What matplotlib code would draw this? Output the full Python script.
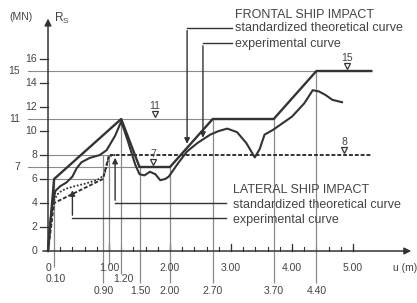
import matplotlib
matplotlib.use('Agg')
import matplotlib.pyplot as plt

plt.rcParams['font.family'] = ['Liberation Sans Narrow', 'Liberation Sans', 'DejaVu Sans']

# --- data -------------------------------------------------------------
# frontal ship impact
front_th_u = [0, 0.1, 1.2, 1.5, 2.0, 2.7, 3.7, 4.4, 5.3]
front_th_r = [0, 6, 11, 7, 7, 11, 11, 15, 15]

front_ex_u = [0, 0.03, 0.07, 0.12, 0.2, 0.3, 0.4, 0.47, 0.55, 0.68, 0.85, 0.96,
              1.1, 1.2, 1.3, 1.43, 1.5, 1.58, 1.67, 1.76, 1.84, 1.92, 1.98,
              2.13, 2.28, 2.45, 2.66, 2.8, 2.94, 3.1, 3.25, 3.39, 3.47, 3.55,
              3.69, 4.0, 4.2, 4.34, 4.44, 4.55, 4.66, 4.82]
front_ex_r = [0, 2, 3.8, 5, 5.4, 5.7, 6.2, 6.9, 7.4, 7.75, 8.0, 8.4,
              9.6, 10.8, 9.3, 7.2, 6.4, 6.3, 6.6, 6.4, 5.9, 6.0, 6.2,
              7.3, 8.3, 9.0, 9.7, 10.0, 10.2, 9.9, 9.0, 7.8, 8.5, 9.7,
              10.1, 11.2, 12.3, 13.4, 13.3, 13.0, 12.6, 12.4]

# lateral ship impact
lat_th_u = [0, 0.1, 0.9, 1.0, 5.3]
lat_th_r = [0, 4, 6, 8, 8]

lat_ex_u = [0.05, 0.1, 0.15, 0.22, 0.3, 0.4, 0.6, 0.8, 0.92, 0.97, 1.0, 1.1]
lat_ex_r = [3, 4.2, 4.7, 5.0, 5.2, 5.35, 5.6, 5.9, 6.3, 7.2, 7.9, 8.0]

# reference levels / displacements
levels = [15, 11, 7]
level_ends = [5.3, 3.7, 2.0]
short_levels = [8, 6]
short_ends = [1.0, 0.9]

vert_u = [0.1, 0.9, 1.0, 1.2, 1.5, 2.0, 2.7, 3.7, 4.4]
vert_top = [6, 8, 8, 11, 7, 7, 11, 11, 15]
vert_bot = [-1.3, -2.7, -1.2, -1.9, -2.7, -2.7, -2.7, -2.7, -2.7]

yticks = [0, 2, 4, 6, 8, 10, 12, 14, 16]
xticks = [0, 1, 2, 3, 4, 5]
xlabels = ['0', '1.00', '2.00', '3.00', '4.00', '5.00']
row2_u = [0.12, 1.24]
row2_lab = ['0.10', '1.20']
row3_u = [0.92, 1.52, 2.0, 2.7, 3.7, 4.4]
row3_lab = ['0.90', '1.50', '2.00', '2.70', '3.70', '4.40']

marks_u = [1.75, 1.72, 4.9, 4.86]
marks_r = [11, 7, 15, 8]
marks_lab = ['11', '7', '15', '8']

# --- figure -----------------------------------------------------------
dark = '#333333'
grey = '#8a8a8a'
txt = '#444444'

fig = plt.figure(figsize=(4.17, 3.03), dpi=100)
ax = fig.add_axes([0, 0, 1, 1])
ax.set_xlim(-0.787, 6.049)
ax.set_ylim(-4.333, 20.917)
ax.axis('off')

# axes with arrows
ax.annotate('', xy=(0, 19.6), xytext=(0, 0),
            arrowprops=dict(arrowstyle='-|>', color=dark, lw=1.1, mutation_scale=10))
ax.annotate('', xy=(6.0, 0), xytext=(-0.13, 0),
            arrowprops=dict(arrowstyle='-|>', color=dark, lw=1.1, mutation_scale=10))

# y ticks and labels
for t in yticks:
    if t > 0:
        ax.plot([-0.13, 0], [t, t], color=dark, lw=0.9)
    ax.text(-0.18, t, str(t), ha='right', va='center', fontsize=7.5, color=txt)

# x ticks
minor = [i * 0.2 for i in range(1, 26)]
for t in minor:
    ax.plot([t, t], [0, 0.35], color=dark, lw=0.8)
for t in xticks[1:]:
    ax.plot([t, t], [0, 0.6], color=dark, lw=0.9)
for t, lab in zip(xticks, xlabels):
    ax.text(t, -1.45, lab, ha='center', va='center', fontsize=7.5, color=txt)
for t, lab in zip(row2_u, row2_lab):
    ax.text(t, -2.35, lab, ha='center', va='center', fontsize=7.5, color=txt)
for t, lab in zip(row3_u, row3_lab):
    ax.text(t, -3.33, lab, ha='center', va='center', fontsize=7.5, color=txt)

ax.text(-0.45, 19.5, '(MN)', ha='center', va='center', fontsize=7.5, color=txt)
ax.text(0.1, 19.4, '$\\mathregular{R_S}$', ha='left', va='center', fontsize=8.5, color=txt)
ax.text(5.65, -1.45, 'u (m)', ha='left', va='center', fontsize=7.5, color=txt)

# horizontal reference lines
for lv, end in zip(levels, level_ends):
    ax.plot([-0.33, end], [lv, lv], color=grey, lw=0.8)
    ax.text(-0.46, lv, str(lv), ha='right', va='center', fontsize=7.5, color=txt)
for lv, end in zip(short_levels, short_ends):
    ax.plot([0, end], [lv, lv], color=grey, lw=0.8)

# vertical reference lines
ax.vlines(vert_u, vert_bot, vert_top, color=grey, lw=0.9)

# curves
ax.plot(front_th_u, front_th_r, color=dark, lw=1.7)
ax.plot(front_ex_u, front_ex_r, color=dark, lw=1.5)
ax.plot(lat_th_u, lat_th_r, color=dark, lw=1.4, ls=(0, (2, 1)))
ax.plot(lat_ex_u, lat_ex_r, color=dark, lw=1.3, ls=(0, (1, 1)))

# level markers
for u, r, lab in zip(marks_u, marks_r, marks_lab):
    ax.plot(u, r + 0.4, marker='v', ms=5, mfc='white', mec=dark, mew=0.9)
    ax.text(u, r + 1.1, lab, ha='center', va='center', fontsize=7.5, color=txt)

# pointers to the legend texts
arr = dict(arrowstyle='-|>', color=dark, lw=1.0, mutation_scale=8)
ax.plot([2.28, 3.02], [18.6, 18.6], color=dark, lw=1.0)
ax.annotate('', xy=(2.28, 8.7), xytext=(2.28, 18.6), arrowprops=arr)
ax.plot([2.54, 3.02], [17.33, 17.33], color=dark, lw=1.0)
ax.annotate('', xy=(2.54, 9.2), xytext=(2.54, 17.33), arrowprops=arr)
ax.plot([1.1, 2.92], [4.0, 4.0], color=dark, lw=1.0)
ax.annotate('', xy=(1.1, 8.0), xytext=(1.1, 4.0), arrowprops=arr)
ax.plot([0.4, 2.92], [2.75, 2.75], color=dark, lw=1.0)
ax.annotate('', xy=(0.4, 5.3), xytext=(0.4, 2.75), arrowprops=arr)

ax.text(3.07, 19.67, 'FRONTAL SHIP IMPACT', ha='left', va='center', fontsize=9, color=txt)
ax.text(3.07, 18.58, 'standardized theoretical curve', ha='left', va='center', fontsize=9, color=txt)
ax.text(3.07, 17.25, 'experimental curve', ha='left', va='center', fontsize=9, color=txt)
ax.text(3.03, 5.08, 'LATERAL SHIP IMPACT', ha='left', va='center', fontsize=9, color=txt)
ax.text(3.03, 3.83, 'standardized theoretical curve', ha='left', va='center', fontsize=9, color=txt)
ax.text(3.03, 2.58, 'experimental curve', ha='left', va='center', fontsize=9, color=txt)

fig.savefig('out.png', dpi=100, facecolor='white')
